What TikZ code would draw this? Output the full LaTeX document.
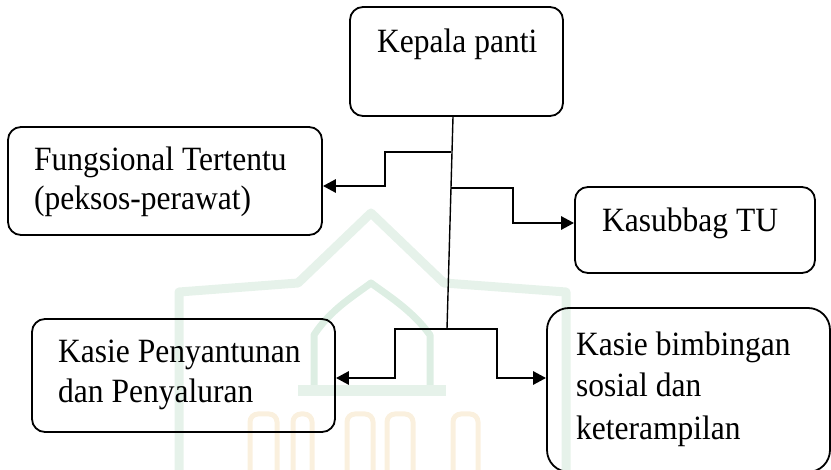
\documentclass[tikz,border=0pt]{standalone}
\usepackage{fontspec}
\setmainfont{Liberation Serif}
\usetikzlibrary{arrows.meta}
\definecolor{wmgreen}{HTML}{E6F2EA}
\definecolor{wmgreenB}{HTML}{DDEEE3}
\definecolor{wmgold}{HTML}{FAF0DE}
\newcommand{\tall}[1]{\scalebox{1}[1.08]{#1}}
\tikzset{
  box/.style={draw=black, line width=1.8pt, rounded corners=13pt, fill=none, inner sep=0pt},
  lbl/.style={anchor=base west, inner sep=0pt, font=\fontsize{31.5pt}{40pt}\selectfont},
  conn/.style={line width=2.8pt, -{Triangle[length=13pt,width=13pt]}},
  trunk/.style={line width=1.4pt},
  wm/.style={line width=9pt, draw=wmgreen, line join=round},
}
\begin{document}
\begin{tikzpicture}[x=1pt,y=-1pt]
\useasboundingbox (0,0) rectangle (831,470);
% faint watermark
\draw[wm] (179,480) -- (179,292) -- (298,283) -- (371,213) -- (444,283) -- (566,292) -- (566,480);
\draw[wm, line width=7pt, draw=wmgreenB] (314,390) -- (314,335) .. controls (330,310) and (355,295) .. (371,283) .. controls (387,295) and (412,310) .. (430,335) -- (430,390);
\fill[wmgreen] (298,385) rectangle (446,396);
\foreach \a/\b in {250/277, 293/312, 347/373, 387/413, 453/478}{
  \draw[wmgold, line width=5pt, rounded corners=8pt] (\a,475) -- (\a,414) -- (\b,414) -- (\b,475);
}
% boxes
\node[box, minimum width=213pt, minimum height=109pt] (kepala) at (456.5,61.5) {};
\node[box, minimum width=314pt, minimum height=108pt] (fung) at (165,181) {};
\node[box, minimum width=240pt, minimum height=86pt] (kasub) at (695,230) {};
\node[box, minimum width=303pt, minimum height=113pt] (penyan) at (183.5,375.5) {};
\node[box, rounded corners=22pt, minimum width=283pt, minimum height=164pt] (bimb) at (688.5,390) {};
% labels
\node[lbl] (kepalaT) at (377,53) {\tall{Kepala panti}};
\node[lbl] (fungA) at (34,171) {\tall{Fungsional Tertentu}};
\node[lbl] (fungB) at (34,210) {\tall{(peksos-perawat)}};
\node[lbl] (kasubT) at (602,232) {\tall{Kasubbag TU}};
\node[lbl] (penyanA) at (58,363) {\tall{Kasie Penyantunan}};
\node[lbl] (penyanB) at (58,403) {\tall{dan Penyaluran}};
\node[lbl] (bimbA) at (576,356) {\tall{Kasie bimbingan}};
\node[lbl] (bimbB) at (576,397) {\tall{sosial dan}};
\node[lbl] (bimbC) at (576,440) {\tall{keterampilan}};
% trunk
\coordinate (tb) at (447,329);
\coordinate (t1) at (451,152);
\coordinate (t2) at (451,188);
\draw[trunk] ([xshift=-3.5pt]kepala.south) -- (tb);
% connectors
\draw[conn] (t1) -- (385,152) -- (385,186) -- ([yshift=-5pt]fung.east);
\draw[conn] (t2) -- (513,188) -- (513,223) -- ([yshift=7pt]kasub.west);
\draw[conn] (tb) -- (395,329) -- (395,378) -- ([yshift=-2.5pt]penyan.east);
\draw[conn] (tb) -- (497,329) -- (497,378) -- ([yshift=12pt]bimb.west);
\end{tikzpicture}
\end{document}
